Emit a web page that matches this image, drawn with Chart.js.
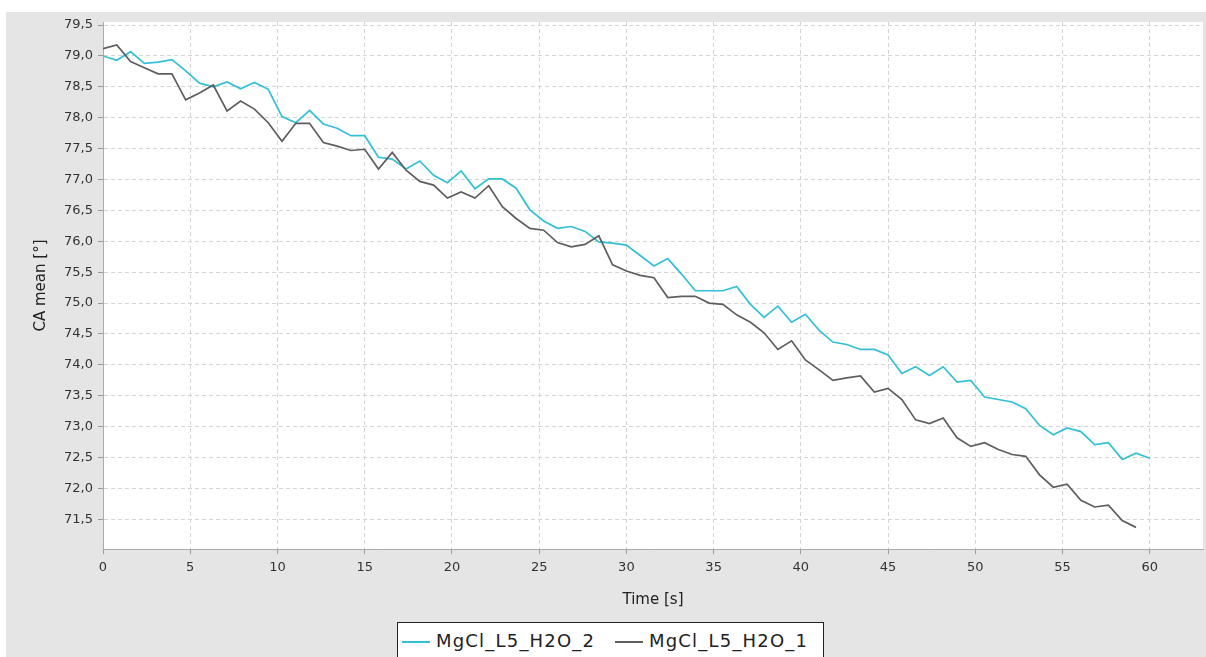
<!DOCTYPE html>
<html>
<head>
<meta charset="utf-8">
<script src="https://cdn.jsdelivr.net/npm/chart.js@4"></script>
<style>
html, body { margin: 0; padding: 0; background: #fff; }
#wrap { position: relative; width: 1206px; height: 657px; overflow: hidden; }
#chart { position: absolute; left: 0; top: 0; }
#legend {
    position: absolute; left: 397px; top: 622px; width: 425px; height: 40px;
    background: #fff; border: 1px solid #222;
    font-family: 'DejaVu Sans', sans-serif; font-size: 18px; letter-spacing: 1.2px; color: #222;
}
.item { position: absolute; top: 7px; white-space: nowrap; }
.swatch { display: inline-block; width: 28px; height: 2px; vertical-align: middle; margin-right: 6px; }
</style>
</head>
<body>
<div id="wrap">
    <canvas id="chart" width="1206" height="657"></canvas>
    <div id="legend"></div>
</div>
<script>
// time stamps [s], one frame every 60/76 s
const times = [
    0, 0.79, 1.58, 2.37, 3.16, 3.95, 4.74, 5.53, 6.32, 7.11,
    7.89, 8.68, 9.47, 10.26, 11.05, 11.84, 12.63, 13.42, 14.21, 15.0,
    15.79, 16.58, 17.37, 18.16, 18.95, 19.74, 20.53, 21.32, 22.11, 22.89,
    23.68, 24.47, 25.26, 26.05, 26.84, 27.63, 28.42, 29.21, 30.0, 30.79,
    31.58, 32.37, 33.16, 33.95, 34.74, 35.53, 36.32, 37.11, 37.89, 38.68,
    39.47, 40.26, 41.05, 41.84, 42.63, 43.42, 44.21, 45.0, 45.79, 46.58,
    47.37, 48.16, 48.95, 49.74, 50.53, 51.32, 52.11, 52.89, 53.68, 54.47,
    55.26, 56.05, 56.84, 57.63, 58.42, 59.21, 60.0
];

const seriesNames = ['MgCl_L5_H2O_2', 'MgCl_L5_H2O_1'];
const seriesColors = ['#33bfd5', '#5e5e5e'];

// CA mean [°]
const ca2 = [
    79.00, 78.93, 79.07, 78.88, 78.90, 78.94, 78.76, 78.56, 78.50, 78.58,
    78.47, 78.57, 78.46, 78.02, 77.92, 78.12, 77.90, 77.83, 77.71, 77.71,
    77.36, 77.33, 77.17, 77.30, 77.07, 76.95, 77.14, 76.85, 77.01, 77.01,
    76.86, 76.51, 76.33, 76.21, 76.24, 76.16, 75.99, 75.97, 75.94, 75.77,
    75.60, 75.72, 75.47, 75.20, 75.20, 75.20, 75.27, 74.98, 74.77, 74.95,
    74.69, 74.82, 74.56, 74.37, 74.33, 74.25, 74.25, 74.16, 73.86, 73.97,
    73.83, 73.97, 73.72, 73.75, 73.48, 73.44, 73.40, 73.29, 73.02, 72.87,
    72.98, 72.92, 72.71, 72.74, 72.47, 72.57, 72.49
];

const ca1 = [
    79.12, 79.18, 78.91, 78.81, 78.71, 78.71, 78.29, 78.40, 78.53, 78.11,
    78.27, 78.14, 77.92, 77.62, 77.91, 77.91, 77.60, 77.54, 77.47, 77.49,
    77.17, 77.44, 77.15, 76.97, 76.91, 76.70, 76.80, 76.70, 76.90, 76.56,
    76.37, 76.21, 76.18, 75.98, 75.91, 75.95, 76.09, 75.62, 75.52, 75.45,
    75.41, 75.09, 75.11, 75.11, 75.00, 74.98, 74.81, 74.69, 74.52, 74.25,
    74.39, 74.08, 73.92, 73.75, 73.79, 73.82, 73.56, 73.62, 73.44, 73.11,
    73.05, 73.14, 72.82, 72.68, 72.74, 72.63, 72.55, 72.52, 72.22, 72.02,
    72.07, 71.81, 71.70, 71.73, 71.48, 71.37
];

function toPoints(values) {
    return values.map((v, i) => ({ x: times[i], y: v }));
}

// Legend as real text below the plot
const legend = document.getElementById('legend');
const legendX = [4, 217];
seriesNames.forEach((name, i) => {
    const item = document.createElement('div');
    item.className = 'item';
    item.style.left = legendX[i] + 'px';
    item.innerHTML = `<span class="swatch" style="background:${seriesColors[i]}"></span>${name}`;
    legend.appendChild(item);
});

// Gray panel + white plot area
const panelBackground = {
    id: 'panelBackground',
    beforeDraw(chart) {
        const { ctx, chartArea } = chart;
        ctx.save();
        ctx.fillStyle = '#fff';
        ctx.fillRect(0, 0, chart.width, chart.height);
        ctx.fillStyle = '#e5e5e5';
        ctx.fillRect(6, 12, chart.width - 6, chart.height - 12);
        ctx.fillStyle = '#fff';
        ctx.fillRect(chartArea.left, chartArea.top, chartArea.right - chartArea.left, chartArea.bottom - chartArea.top);
        ctx.restore();
    }
};

const tickFont = { family: 'DejaVu Sans', size: 13 };
const titleFont = { family: 'DejaVu Sans', size: 15 };

const gridOpts = {
    color: '#d4d4d4',
    tickLength: 5,
    tickColor: '#9a9a9a',
    tickBorderDash: []
};
const borderOpts = { display: true, color: '#aaa', width: 1, dash: [4, 3] };

const ctx = document.getElementById('chart').getContext('2d');
new Chart(ctx, {
    type: 'line',
    data: {
        datasets: [
            {
                label: seriesNames[1],
                data: toPoints(ca1),
                borderColor: seriesColors[1],
                borderWidth: 1.7,
                pointRadius: 0,
                tension: 0,
                fill: false
            },
            {
                label: seriesNames[0],
                data: toPoints(ca2),
                borderColor: seriesColors[0],
                borderWidth: 1.7,
                pointRadius: 0,
                tension: 0,
                fill: false
            }
        ]
    },
    options: {
        responsive: false,
        animation: false,
        layout: {
            padding: { left: 6, top: 22, right: 3, bottom: 48 }
        },
        plugins: {
            legend: { display: false },
            tooltip: { enabled: false }
        },
        scales: {
            x: {
                type: 'linear',
                min: 0,
                max: 63.05,
                afterFit: (scale) => { scale.height = 60; },
                ticks: {
                    stepSize: 5,
                    includeBounds: false,
                    color: '#333',
                    font: tickFont,
                    padding: 6,
                    maxRotation: 0
                },
                grid: gridOpts,
                border: borderOpts,
                title: {
                    display: true,
                    text: 'Time [s]',
                    color: '#222',
                    font: titleFont,
                    padding: { top: 4, bottom: 0 }
                }
            },
            y: {
                min: 71.02,
                max: 79.55,
                afterFit: (scale) => { scale.width = 97; },
                ticks: {
                    stepSize: 0.5,
                    includeBounds: false,
                    color: '#333',
                    font: tickFont,
                    padding: 5,
                    callback: (value) => value.toFixed(1).replace('.', ',')
                },
                grid: gridOpts,
                border: borderOpts,
                title: {
                    display: true,
                    text: 'CA mean [°]',
                    color: '#222',
                    font: titleFont,
                    padding: { top: 26, bottom: 0 }
                }
            }
        }
    },
    plugins: [panelBackground]
});
</script>
</body>
</html>
